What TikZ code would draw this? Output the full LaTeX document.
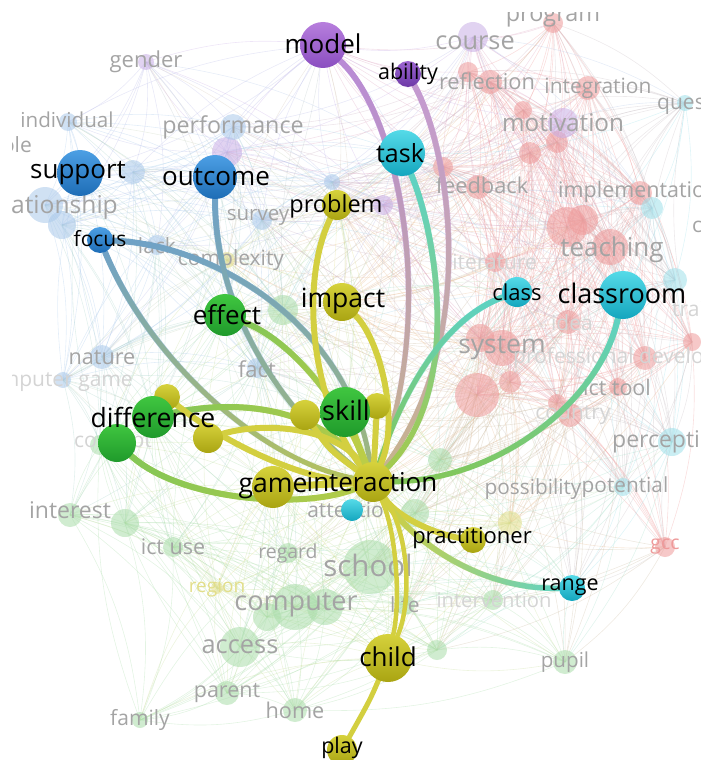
\documentclass[tikz,border=0pt]{standalone}
\usepackage{fontspec}
\setmainfont{Open Sans}
\usetikzlibrary{fadings}

\definecolor{fr}{HTML}{EE9A9A}
\definecolor{fp}{HTML}{C9AEE6}
\definecolor{fb}{HTML}{A9C8EA}
\definecolor{fg}{HTML}{A9DCA9}
\definecolor{fc}{HTML}{9FE0EA}
\definecolor{fy}{HTML}{E2DE8A}
\definecolor{fl}{HTML}{A4A4A4}
\definecolor{fll}{HTML}{D4D4D4}
\definecolor{ytop}{HTML}{D6D23C}
\definecolor{ybot}{HTML}{A9A412}
\definecolor{gtop}{HTML}{40C640}
\definecolor{gbot}{HTML}{1F9A2B}
\definecolor{ctop}{HTML}{55DAE8}
\definecolor{cbot}{HTML}{14A6BE}
\definecolor{btop}{HTML}{4C9FE4}
\definecolor{bbot}{HTML}{1E6DB6}
\definecolor{ptop}{HTML}{B77EDD}
\definecolor{pbot}{HTML}{8A4EC0}
\definecolor{qtop}{HTML}{9D66D2}
\definecolor{qbot}{HTML}{6C38A6}
\definecolor{epur}{HTML}{B98BD7}
\definecolor{eabl}{HTML}{C49AD2}
\definecolor{etan}{HTML}{C7B48E}
\definecolor{eteal}{HTML}{5ED3C6}
\definecolor{eblu}{HTML}{6FA2C8}
\definecolor{egrn}{HTML}{84C757}
\definecolor{eyel}{HTML}{D3CF40}
\definecolor{eolv}{HTML}{B5C25C}

\pgfdeclarelayer{web}
\pgfdeclarelayer{edges}
\pgfsetlayers{web,edges,main}

\tikzset{
  bubble/.style={circle, inner sep=0pt, minimum size=#1},
  ybub/.style={bubble=#1, top color=ytop, bottom color=ybot},
  gbub/.style={bubble=#1, top color=gtop, bottom color=gbot},
  cbub/.style={bubble=#1, top color=ctop, bottom color=cbot},
  bbub/.style={bubble=#1, top color=btop, bottom color=bbot},
  pbub/.style={bubble=#1, top color=ptop, bottom color=pbot},
  qbub/.style={bubble=#1, top color=qtop, bottom color=qbot},
  lbl/.style={inner sep=0pt, text=black, font=\fontsize{#1}{#1}\selectfont},
  webline/.style={line width=.6pt, opacity=.32},
  bright/.style={line width=6pt, line cap=round},
}

% base colour, then the other end colour faded over it
\newcommand\gedge[4]{\draw[bright,#1] #4; \draw[bright,#2,path fading=#3] #4;}

% faint items: x/y/radius/colour
\def\webl{553/23/10/fr, 468/72/10/fr, 490/82/12/fr, 588/88/12/fr, 523/110/9/fr,
  557/142/11/fr, 530/153/11/fr, 443/167/10/fr, 478/187/12/fr, 640/193/12/fr,
  567/227/20/fr, 583/220/15/fr, 610/247/18/fr, 495/262/10/fr, 568/322/12/fr,
  502/348/18/fr, 480/338/14/fr, 645/358/12/fr, 692/342/9/fr, 618/387/9/fr,
  477/395/22/fr, 510/382/11/fr, 570/415/12/fr, 557/403/9/fr, 665/547/10/fr,
  473/37/15/fp, 563/123/15/fp, 227/152/15/fp, 146/62/8/fp, 383/205/10/fp,
  68/122/9/fb, 233/127/13/fb, 133/172/12/fb, 45/205/18/fb, 62/225/14/fb,
  262/220/10/fb, 332/182/8/fb, 157/245/10/fb, 102/357/12/fb, 63/380/8/fb,
  257/368/10/fb, 685/103/8/fc, 652/208/11/fc, 675/280/12/fc, 672/442/14/fc,
  623/487/9/fc, 283/310/15/fg, 440/460/12/fg, 70/515/12/fg, 125/523/14/fg,
  173/547/10/fg, 295/607/23/fg, 325/607/18/fg, 267/617/14/fg, 370/567/27/fg,
  415/513/14/fg, 405/605/10/fg, 493/600/10/fg, 437/650/10/fg, 565/662/12/fg,
  240/647/20/fg, 227/693/12/fg, 295/710/12/fg, 140/720/8/fg, 100/445/10/fg,
  288/553/10/fg, 510/523/12/fy, 217/588/6/fy, 227/260/8/fy,
  323/45/0/fp, 402/153/0/fc, 80/173/0/fb, 215/177/0/fb, 337/205/0/fy,
  342/302/0/fy, 225/315/0/fg, 517/292/0/fc, 623/295/0/fc, 345/412/0/fg,
  153/417/0/fg, 273/487/0/fy, 373/482/0/fy, 388/658/0/fy, 572/588/0/fc}

\begin{document}
\begin{tikzpicture}[x=1pt,y=-1pt]
\useasboundingbox (0,0) rectangle (701,760);

% bubbles
\node[pbub=46] (model) at (323,45) {};
\node[qbub=26] (ability) at (408,74) {};
\node[cbub=46] (task) at (402,153) {};
\node[bbub=46] (support) at (80,173) {};
\node[bbub=44] (outcome) at (215,177) {};
\node[bbub=26] (focus) at (100,240) {};
\node[ybub=30] (problem) at (337,205) {};
\node[ybub=38] (impact) at (342,302) {};
\node[gbub=42] (effect) at (225,315) {};
\node[cbub=30] (class) at (517,292) {};
\node[cbub=48] (classroom) at (623,295) {};
\node[ybub=30] (ysl) at (305,415) {};
\node[ybub=26] (ysr) at (377,406) {};
\node[gbub=50] (skill) at (345,412) {};
\node[ybub=26] (ydt) at (167,397) {};
\node[gbub=42] (difference) at (153,417) {};
\node[gbub=38] (gdl) at (117,443) {};
\node[ybub=30] (ydr) at (208,438) {};
\node[ybub=42] (game) at (273,487) {};
\node[ybub=40] (interaction) at (373,482) {};
\node[cbub=22] (attention) at (352,510) {};
\node[ybub=26] (practitioner) at (473,540) {};
\node[cbub=26] (range) at (572,588) {};
\node[ybub=48] (child) at (388,658) {};
\node[ybub=30] (play) at (342,750) {};

% labels
\node[lbl=26] (model-t) at (323,44) {model};
\node[lbl=21.5] (ability-t) at (408,74) {ability};
\node[lbl=25] (task-t) at (400,153) {task};
\node[lbl=26] (support-t) at (78,173) {support};
\node[lbl=26] (outcome-t) at (216,177) {outcome};
\node[lbl=21] (focus-t) at (100,239) {focus};
\node[lbl=23.5] (problem-t) at (336,206) {problem};
\node[lbl=26.5] (impact-t) at (343,301) {impact};
\node[lbl=26] (effect-t) at (227,315) {effect};
\node[lbl=22] (class-t) at (517,292) {class};
\node[lbl=27] (classroom-t) at (622,293) {classroom};
\node[lbl=27] (skill-t) at (346,410) {skill};
\node[lbl=26.5] (difference-t) at (153,417) {difference};
\node[lbl=26.5] (game-t) at (273,488) {game};
\node[lbl=26] (interaction-t) at (372,482) {interaction};
\node[lbl=22] (practitioner-t) at (472,538) {practitioner};
\node[lbl=21.5] (range-t) at (570,587) {range};
\node[lbl=26] (child-t) at (388,657) {child};
\node[lbl=21.5] (play-t) at (342,748) {play};

\begin{pgfonlayer}{edges}
\gedge{line width=5pt,etan}{epur}{south}{(model) .. controls (395,110) and (440,300) .. (interaction)}
\gedge{line width=5pt,etan}{eabl}{south}{(ability) .. controls (450,150) and (480,340) .. (interaction)}
\gedge{line width=5.5pt,egrn!60!eyel}{eteal}{south}{(task) .. controls (435,230) and (465,390) .. (interaction)}
\gedge{line width=5pt,egrn}{eteal}{south}{(class) .. controls (440,320) and (400,400) .. (interaction)}
\gedge{line width=5.5pt,egrn}{eteal}{south}{(classroom) .. controls (600,400) and (500,480) .. (interaction)}
\gedge{line width=5pt,eolv}{eblu}{south}{(focus) .. controls (150,360) and (260,460) .. (interaction)}
\gedge{line width=5pt,eolv!70!eblu}{eblu}{south}{(focus) .. controls (220,245) and (350,330) .. (interaction)}
\gedge{line width=5pt,eolv!70!eblu}{eblu}{south}{(outcome) .. controls (215,300) and (270,400) .. (interaction)}
\gedge{line width=5.5pt,eyel}{egrn}{south}{(effect) .. controls (290,340) and (340,400) .. (interaction)}
\gedge{line width=6pt,eyel!60!egrn}{egrn}{east}{(difference) .. controls (260,395) and (330,420) .. (interaction)}
\gedge{line width=6pt,eyel!60!egrn}{egrn}{east}{(gdl) .. controls (180,500) and (300,510) .. (interaction)}
\draw[bright,eyel] (problem) .. controls (300,280) and (310,400) .. (interaction);
\draw[bright,eyel] (impact) .. controls (380,340) and (400,420) .. (interaction);
\draw[bright,eyel] (ydt) .. controls (220,440) and (300,480) .. (interaction);
\draw[bright,eyel] (ydr) .. controls (270,420) and (340,430) .. (interaction);
\draw[bright,eyel,line width=7pt] (game) -- (interaction);
\draw[bright,eyel!70!egrn,line width=7pt] (skill) -- (interaction);
\draw[bright,eyel] (ysl) .. controls (330,450) .. (interaction);
\draw[bright,eyel] (ysr) -- (interaction);
\draw[bright,eyel] (interaction) .. controls (400,520) and (440,535) .. (practitioner);
\gedge{line width=5.5pt,eteal}{eyel}{east}{(interaction) .. controls (410,540) and (480,590) .. (range)}
\draw[bright,eyel,line width=4.5pt] (interaction) .. controls (408,530) and (413,600) .. (child);
\draw[bright,eyel,line width=4.5pt] (interaction) .. controls (396,530) and (401,600) .. (child);
\draw[bright,eyel,line width=5pt] (child) .. controls (370,700) .. (play);
\end{pgfonlayer}

\begin{pgfonlayer}{web}
\foreach \x/\y/\r/\c [count=\i] in \webl {
  \coordinate (w\i) at (\x,\y);
}
\foreach \xa/\ya/\ra/\ca [count=\i] in \webl {
  \foreach \xb/\yb/\rb/\cb [count=\j] in \webl {
    \ifnum\j>\i
      \pgfmathtruncatemacro\near{veclen(\xa-\xb,\ya-\yb)<290}
      \ifnum\near=1
        \draw[webline,\ca!50!\cb] (w\i) to[bend left=12] (w\j);
      \fi
    \fi
  }
}
\foreach \x/\y/\r/\c [count=\i] in \webl {
  \fill[\c, opacity=.55] (w\i) circle (\r);
}
% faint labels: x/y/text/size/colour/anchor
\foreach \x/\y/\t/\s/\c/\a in {146/62/gender/22/fl/center, 475/43/course/25.3/fl/center,
  553/18/program/23.4/fl/center, 487/81/reflection/21.8/fl/center,
  598/88/integration/21/fl/center, 657/104/question/21/fl/west,
  563/123/motivation/24.3/fl/center, 482/185/feedback/21.8/fl/center,
  558/192/implementation/21.5/fl/west, 692/225/curriculum/21/fl/west,
  612/250/teaching/26/fl/center, 67/120/individual/20.6/fl/center,
  32/145/role/21/fl/east, 233/127/performance/23.3/fl/center,
  118/207/relationship/24.6/fl/east, 258/217/survey/20.5/fl/center,
  157/246/lack/21/fl/center, 231/260/complexity/21/fl/center,
  492/262/literature/21/fll/center, 572/323/idea/21/fll/center,
  502/348/system/26.5/fl/center, 513/358/professional development/21/fll/west,
  617/387/ict tool/21.5/fl/center, 573/415/country/21/fll/center,
  612/442/perception/23/fl/west, 672/311/training/21/fll/west,
  102/357/nature/21.6/fl/center, 133/382/computer game/21/fll/east,
  257/369/fact/22/fl/center, 113/443/concept/21/fll/center,
  533/489/possibility/20.8/fl/center, 625/487/potential/20.8/fl/center,
  352/510/attention/21/fl/center, 70/510/interest/23/fl/center,
  173/547/ict use/21.5/fl/center, 288/553/regard/19.4/fl/center,
  368/565/school/29.5/fl/center, 217/588/region/19/fy/center,
  296/605/computer/27/fl/center, 405/605/life/21/fl/center,
  494/600/intervention/20.2/fll/center, 665/547/gcc/19.4/fr/center,
  240/647/access/25.4/fl/center, 565/662/pupil/20.6/fl/center,
  227/693/parent/21.5/fl/center, 295/710/home/21.7/fl/center,
  140/720/family/21/fl/center} {
  \node[inner sep=0pt, anchor=\a, text=\c, font=\fontsize{\s}{\s}\selectfont] at (\x,\y) {\t};
}
\end{pgfonlayer}

% white margins
\fill[white] (0,0) rectangle (12,760);
\fill[white] (0,0) rectangle (701,12);
\end{tikzpicture}
\end{document}
